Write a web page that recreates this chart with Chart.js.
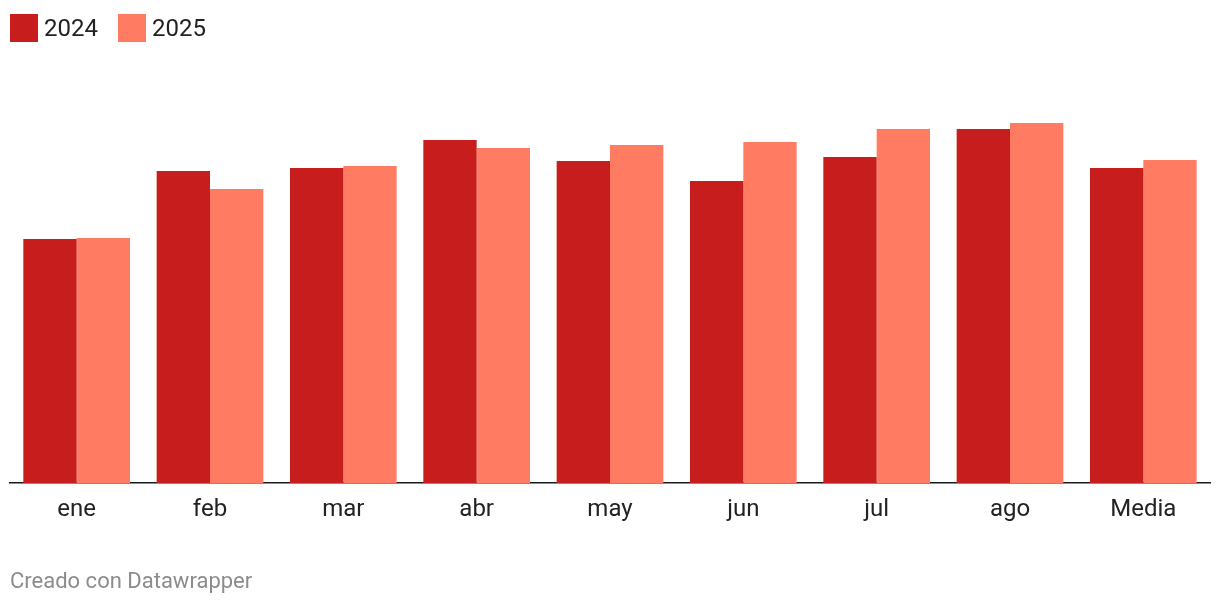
<!DOCTYPE html>
<html>
<head>
<meta charset="utf-8">
<script src="https://cdn.jsdelivr.net/npm/chart.js@4/dist/chart.umd.min.js"></script>
<style>
  html, body { margin: 0; padding: 0; background: #fff; }
  body { width: 1220px; height: 604px; position: relative; overflow: hidden; font-family: Roboto, "Liberation Sans", sans-serif; }
  #wrap { position: absolute; left: 0; top: 0; width: 1220px; height: 604px; }
  #legend { position: absolute; left: 10px; top: 14px; display: flex; align-items: center; }
  .item { display: flex; align-items: center; margin-right: 20px; }
  .box { width: 28px; height: 28px; margin-right: 6px; }
  .lbl { font-size: 24px; color: #222; line-height: 28px; }
  #footer { position: absolute; left: 10px; top: 568px; font-size: 22px; color: #8c8c8c; }
</style>
</head>
<body>
<div id="wrap"><canvas id="c" width="1220" height="604"></canvas></div>
<div id="legend"></div>
<div id="footer">Creado con Datawrapper</div>
<script>
const categories = ["ene", "feb", "mar", "abr", "may", "jun", "jul", "ago", "Media"];
const seriesNames = ["2024", "2025"];
const values2024 = [244, 312, 315, 343, 322, 302, 326, 354, 315];
const values2025 = [245, 294, 317, 335, 338, 341, 354, 360, 323];
const colors = ["#c71e1d", "#ff7c62"];

const datasets = [values2024, values2025].map((v, i) => ({
  label: seriesNames[i],
  data: v,
  backgroundColor: colors[i],
  borderWidth: 0,
  categoryPercentage: 0.8,
  barPercentage: 1.0
}));

const legend = document.getElementById('legend');
datasets.forEach(d => {
  const it = document.createElement('div'); it.className = 'item';
  const b = document.createElement('div'); b.className = 'box'; b.style.background = d.backgroundColor;
  const t = document.createElement('span'); t.className = 'lbl'; t.textContent = d.label;
  it.appendChild(b); it.appendChild(t); legend.appendChild(it);
});

new Chart(document.getElementById('c'), {
  type: 'bar',
  data: { labels: categories, datasets },
  options: {
    responsive: false,
    animation: false,
    layout: { padding: { left: 10, right: 10, top: 83, bottom: 61 } },
    plugins: { legend: { display: false }, tooltip: { enabled: false } },
    scales: {
      x: {
        grid: { display: false, drawTicks: false },
        border: { display: true, color: '#1a1a1a', width: 1.5 },
        ticks: { color: '#222', font: { family: 'Roboto', size: 24 }, padding: 13, maxRotation: 0 },
        afterFit: s => { s.height = 60; }
      },
      y: { display: false, min: 0, max: 400 }
    }
  }
});
</script>
</body>
</html>
